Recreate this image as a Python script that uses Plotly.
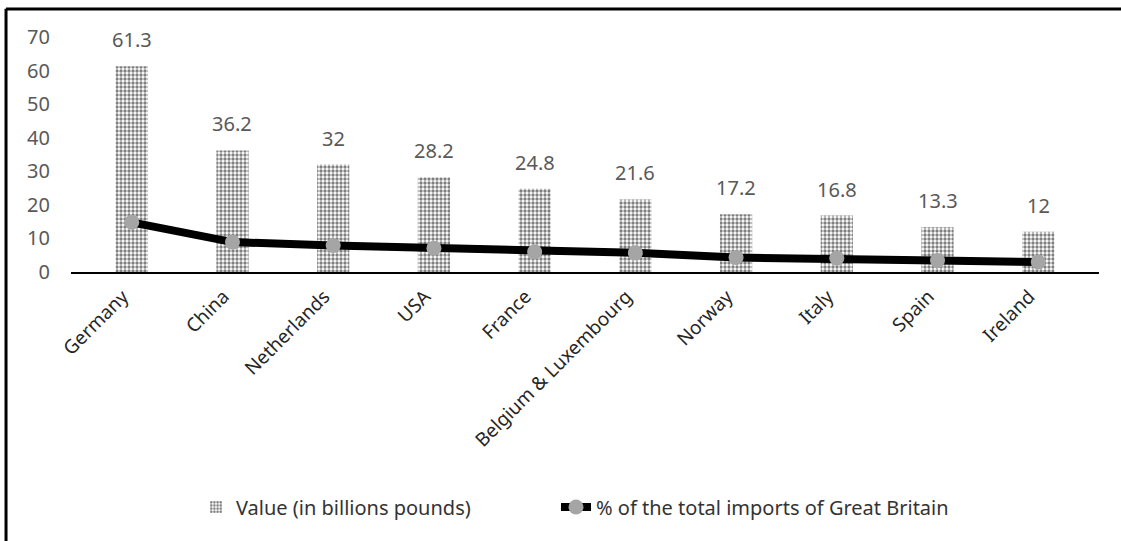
import plotly.graph_objects as go

countries = ["Germany", "China", "Netherlands", "USA", "France",
             "Belgium & Luxembourg", "Norway", "Italy", "Spain", "Ireland"]
value_bn = [61.3, 36.2, 32, 28.2, 24.8, 21.6, 17.2, 16.8, 13.3, 12]
share_pct = [14.8, 8.9, 7.9, 7.1, 6.0, 5.7, 4.3, 4.1, 3.4, 3.0]
y_ticks = [0, 10, 20, 30, 40, 50, 60, 70]

FONT = "Noto Sans"

fig = go.Figure()

fig.add_trace(go.Bar(
    x=countries,
    y=value_bn,
    name="Value (in billions pounds)",
    legendwidth=315,
    width=0.32,
    marker=dict(
        color="white",
        line=dict(width=0),
        pattern=dict(shape=".", fgcolor="black", bgcolor="white",
                     size=4, solidity=0.55),
    ),
))

fig.add_trace(go.Scatter(
    x=countries,
    y=share_pct,
    name="% of the total imports of Great Britain",
    legendwidth=380,
    mode="lines+markers",
    line=dict(color="black", width=8),
    marker=dict(color="#A5A5A5", size=15, line=dict(width=0)),
))

# value labels above each bar
labels = [
    dict(x=c, y=v, text=f"{v:g}", showarrow=False, xref="x", yref="y",
         yanchor="bottom", yshift=11,
         font=dict(family=FONT, size=20, color="#595959"))
    for c, v in zip(countries, value_bn)
]

fig.update_layout(
    width=1121,
    height=541,
    margin=dict(l=71, r=22, t=37, b=269),
    paper_bgcolor="white",
    plot_bgcolor="white",
    font=dict(family=FONT, size=16, color="#404040"),
    showlegend=True,
    legend=dict(
        orientation="h",
        x=0.1216, xanchor="left",
        y=-1.0, yanchor="middle",
        font=dict(family=FONT, size=20, color="#333333"),
        traceorder="normal",
    ),
    xaxis=dict(
        tickangle=-45,
        showline=True, linecolor="black", linewidth=2,
        showgrid=False, ticks="",
        ticklabelshift=-9,
        ticklabelstandoff=4,
        tickfont=dict(family=FONT, size=19, color="#262626"),
    ),
    yaxis=dict(
        range=[0, 70],
        tickvals=y_ticks,
        showgrid=False, zeroline=False, showline=False, ticks="",
        ticklabelstandoff=20,
        tickfont=dict(family=FONT, size=20, color="#595959"),
    ),
    annotations=labels,
    shapes=[
        dict(type="line", xref="paper", yref="paper",
             x0=-0.0632, x1=-0.0632, y0=-1.3, y1=1.12,
             line=dict(color="black", width=3)),
        dict(type="line", xref="paper", yref="paper",
             x0=-0.0632, x1=1.1, y0=1.119, y1=1.119,
             line=dict(color="black", width=3)),
    ],
)

fig.write_html("out.html")
